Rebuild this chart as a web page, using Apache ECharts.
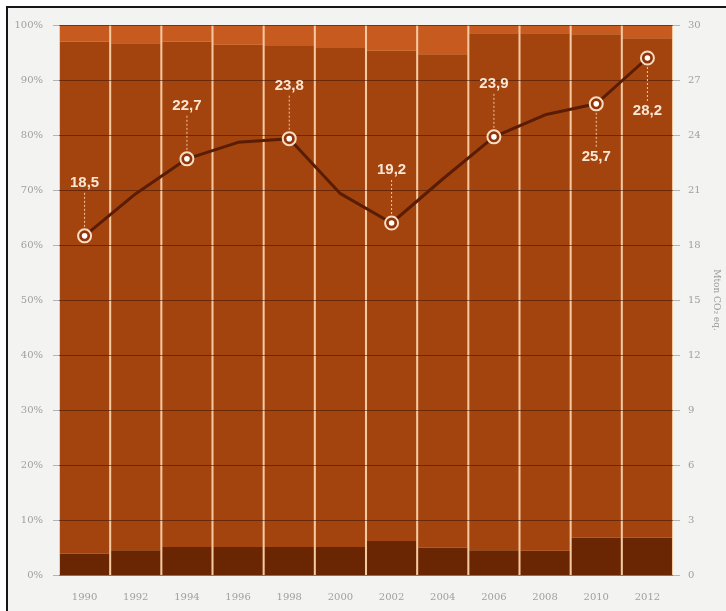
<!DOCTYPE html>
<html>
<head>
<meta charset="utf-8">
<script src="https://cdn.jsdelivr.net/npm/echarts@6/dist/echarts.min.js"></script>
<style>
  html, body { margin: 0; padding: 0; background: #ffffff; overflow: hidden; }
  #frame {
    position: absolute; left: 6px; top: 6px; width: 730px; height: 700px;
    border-left: 2.5px solid #161616; border-top: 2.5px solid #161616; background: #f3f3f2;
  }
  #chart { position: absolute; left: 0; top: 0; width: 726px; height: 611px; }
</style>
</head>
<body>
<div id="frame"></div>
<div id="chart"></div>
<script>
// Years on the category axis
const years = ['1990', '1992', '1994', '1996', '1998', '2000', '2002', '2004', '2006', '2008', '2010', '2012'];

// Stacked shares (%) — bottom, middle and top segments of every column
const shareBottom = [3.9, 4.5, 5.1, 5.1, 5.1, 5.1, 6.2, 5.0, 4.5, 4.4, 6.8, 6.8];
const shareMiddle = [93.1, 92.2, 91.9, 91.3, 91.1, 90.7, 89.1, 89.7, 94.0, 94.1, 91.5, 90.8];
const shareTop = [3.0, 3.3, 3.0, 3.6, 3.8, 4.2, 4.7, 5.3, 1.5, 1.5, 1.7, 2.4];

// Total emissions (Mton CO2 eq.), right axis
const emissions = [18.5, 20.8, 22.7, 23.6, 23.8, 20.8, 19.2, 21.6, 23.9, 25.1, 25.7, 28.2];

// Years that carry a value label, and on which side of the point it sits
const labelledYears = ['1990', '1994', '1998', '2002', '2006', '2010', '2012'];
const labelSide = ['above', 'above', 'above', 'above', 'above', 'below', 'below'];

// Left and right tick values
const shareTicks = { min: 0, max: 100, interval: 10 };
const emissionTicks = { min: 0, max: 30, interval: 3 };

const axisFont = { color: '#a0a0a0', fontFamily: 'DejaVu Serif', fontSize: 10 };

const labelled = labelledYears.map((y, i) => {
  const idx = years.indexOf(y);
  return [idx, emissions[idx], labelSide[i] === 'above' ? 1 : -1];
});

const chart = echarts.init(document.getElementById('chart'), null, { renderer: 'canvas' });

chart.setOption({
  animation: false,
  backgroundColor: 'transparent',
  grid: {
    left: 59, right: 53, top: 25, bottom: 36,
    outerBoundsMode: 'none',
    containLabel: false,
    show: true, backgroundColor: '#f5c9a0', borderWidth: 0
  },
  xAxis: {
    type: 'category',
    data: years,
    axisLine: { show: false },
    axisTick: { show: false },
    axisLabel: Object.assign({ margin: 17 }, axisFont)
  },
  yAxis: [
    {
      type: 'value',
      min: shareTicks.min, max: shareTicks.max, interval: shareTicks.interval,
      z: 5,
      axisLine: { show: false },
      axisTick: { show: true, length: 6, lineStyle: { color: '#b5b5b5' } },
      axisLabel: Object.assign({ margin: 16, formatter: '{value}%' }, axisFont),
      splitLine: { show: true, lineStyle: { color: 'rgba(70,22,0,0.6)', width: 1 } }
    },
    {
      type: 'value',
      min: emissionTicks.min, max: emissionTicks.max, interval: emissionTicks.interval,
      position: 'right',
      z: 5,
      name: 'Mton CO\u2082 eq.',
      nameLocation: 'middle',
      nameRotate: -90,
      nameGap: 38,
      nameTextStyle: { color: '#9c9c9c', fontFamily: 'DejaVu Serif', fontSize: 9 },
      axisLine: { show: false },
      axisTick: { show: true, length: 7, lineStyle: { color: '#b5b5b5' } },
      axisLabel: Object.assign({ margin: 15 }, axisFont),
      splitLine: { show: false }
    }
  ],
  series: [
    {
      type: 'bar', stack: 'share', data: shareBottom,
      barCategoryGap: '4%',
      itemStyle: { color: '#6a2603' }
    },
    {
      type: 'bar', stack: 'share', data: shareMiddle,
      itemStyle: { color: '#a3440f' }
    },
    {
      type: 'bar', stack: 'share', data: shareTop,
      itemStyle: { color: '#c75a1f' }
    },
    {
      type: 'line', yAxisIndex: 1, data: emissions,
      z: 10,
      showSymbol: false,
      lineStyle: { color: '#5a1d04', width: 3 }
    },
    {
      // value markers with dotted leaders and labels
      type: 'custom', yAxisIndex: 1, data: labelled,
      z: 12,
      renderItem: function (params, api) {
        const p = api.coord([api.value(0), api.value(1)]);
        const dir = api.value(2);
        const val = api.value(1).toFixed(1).replace('.', ',');
        return {
          type: 'group',
          children: [
            {
              type: 'line',
              shape: { x1: p[0], y1: p[1] - dir * 9, x2: p[0], y2: p[1] - dir * 43 },
              style: { stroke: '#f3c49a', lineWidth: 1, lineDash: [2, 2] }
            },
            {
              type: 'circle',
              shape: { cx: p[0], cy: p[1], r: 6.5 },
              style: { fill: '#8f3509', stroke: '#f9dcc2', lineWidth: 2 }
            },
            {
              type: 'circle',
              shape: { cx: p[0], cy: p[1], r: 2.8 },
              style: { fill: '#ffffff' }
            },
            {
              type: 'text',
              style: {
                x: p[0], y: p[1] - dir * 53,
                text: val,
                fill: '#fbe6d3',
                font: 'bold 15px "Liberation Sans", Arial, sans-serif',
                align: 'center', verticalAlign: 'middle'
              }
            }
          ]
        };
      }
    }
  ]
});
</script>
</body>
</html>
